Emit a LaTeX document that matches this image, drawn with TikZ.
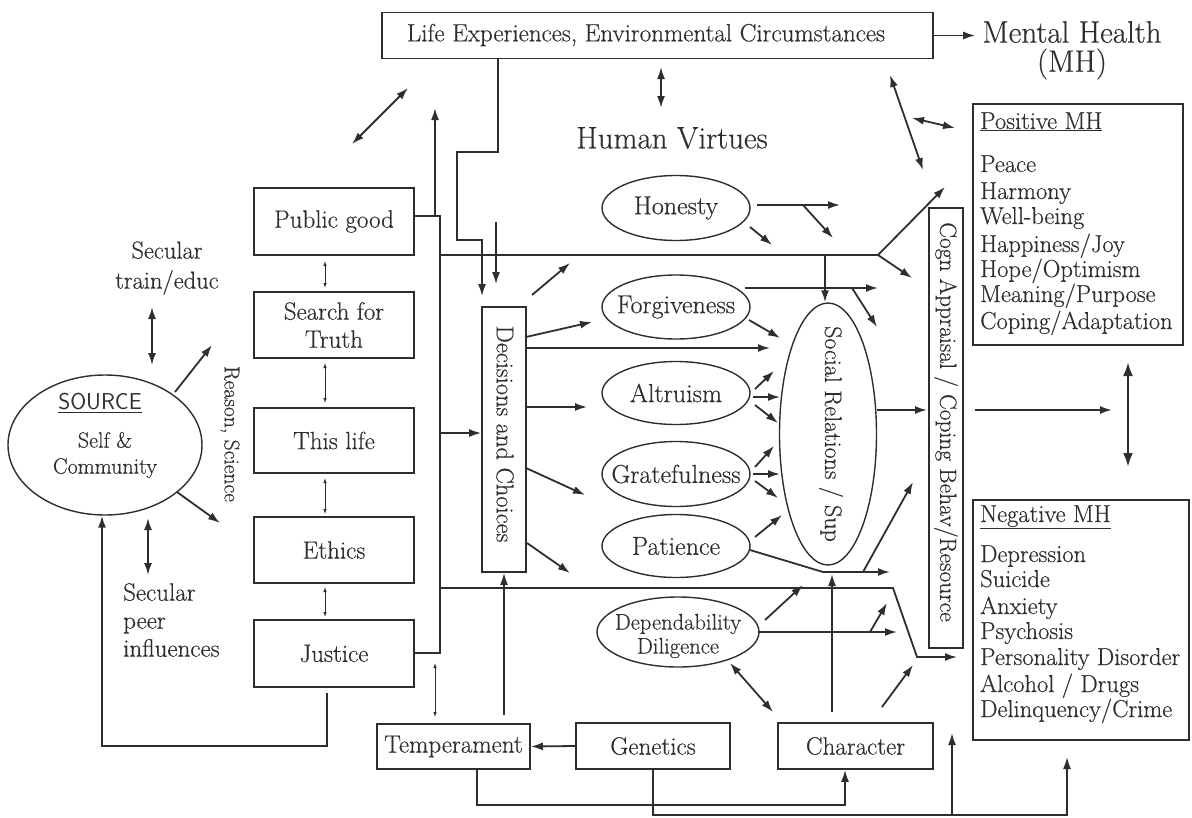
\documentclass[tikz,border=0pt]{standalone}
\usepackage{fontspec}
\setmainfont{Latin Modern Roman}[FakeBold=0.4]
\usetikzlibrary{arrows.meta,shapes.geometric}
\definecolor{ink}{HTML}{2E2E2E}
\begin{document}
\begin{tikzpicture}[x=1pt,y=-1pt,
  every node/.style={text=ink, inner sep=0pt},
  txt/.style={font=\fontsize{25}{28}\selectfont},
  box/.style={draw=ink, line width=1.7pt, txt, align=center},
  oval/.style={ellipse, draw=ink, line width=1.4pt},
  vtxt/.style={font=\fontsize{26}{28}\selectfont},
  ln/.style={draw=ink, line width=1.8pt},
  ar/.style={ln, -{Latex[length=12pt,width=8pt]}},
  dar/.style={ln, {Latex[length=12pt,width=8pt]}-{Latex[length=12pt,width=8pt]}},
  tar/.style={draw=ink, line width=0.8pt, {Latex[length=5pt,width=3.5pt]}-{Latex[length=5pt,width=3.5pt]}},
  bus/.style={draw=ink, line width=2.6pt},
  listitem/.style={font=\fontsize{24.5}{28}\selectfont, anchor=base west},
]
\useasboundingbox (0,0) rectangle (1192,817);

% ---------- top row ----------
\node[box, minimum width=551pt, minimum height=46pt] (life) at (657.5,35.5) {};
\node[txt] (lifeT) at (646,35) {Life Experiences, Environmental Circumstances};
\node[font=\fontsize{31}{34}\selectfont] (mh) at (1072,32) {Mental Health};
\node[font=\fontsize{31}{34}\selectfont] (mh2) at (1072,64) {(MH)};
\node[font=\fontsize{31}{34}\selectfont] (hv) at (672,138) {Human Virtues};

% ---------- value column ----------
\node[box, minimum width=160pt, minimum height=67pt] (pub) at (334,221.5) {Public good};
\node[box, minimum width=160pt, minimum height=66pt] (sft) at (334,325) {Search for\\Truth};
\node[box, minimum width=160pt, minimum height=65pt] (thl) at (334,440.5) {This life};
\node[box, minimum width=160pt, minimum height=66pt] (eth) at (334,550) {Ethics};
\node[box, minimum width=160pt, minimum height=67pt] (jus) at (334,653.5) {Justice};

% ---------- source ----------
\node[oval, minimum width=194pt, minimum height=140pt] (src) at (105,445) {};
\node[font=\sffamily\fontsize{23}{26}\selectfont] (srcT) at (100,403) {\underline{SOURCE}};
\node[font=\fontsize{22}{26}\selectfont, align=center] (srcB) at (105,455) {Self \&\\Community};
\node[font=\fontsize{24.5}{30}\selectfont, align=center] (sec1) at (167,268) {Secular\\train/educ};
\node[font=\fontsize{25}{28}\selectfont, align=left, anchor=west] (sec2) at (123,620) {Secular\\peer\\influences};
\node[font=\fontsize{21.5}{24}\selectfont, rotate=-90] (rs) at (230,434) {Reason, Science};

% ---------- decisions ----------
\node[box, minimum width=44pt, minimum height=265pt] (dec) at (504,439.5) {};
\node[font=\fontsize{24.5}{28}\selectfont, rotate=-90] (decT) at (505,434) {Decisions and Choices};

% ---------- virtues ----------
\node[oval, minimum width=148pt, minimum height=65pt] (hon) at (676,208) {};
\node[vtxt] (honT) at (hon) {Honesty};
\node[oval, minimum width=148pt, minimum height=64pt] (forg) at (676,307) {};
\node[vtxt] (forgT) at (forg) {Forgiveness};
\node[oval, minimum width=148pt, minimum height=63pt] (alt) at (676,393) {};
\node[vtxt] (altT) at (alt) {Altruism};
\node[oval, minimum width=148pt, minimum height=65pt] (grat) at (676,474) {};
\node[vtxt] (gratT) at (grat) {Gratefulness};
\node[oval, minimum width=148pt, minimum height=63pt] (pat) at (676,546) {};
\node[vtxt] (patT) at (pat) {Patience};
\node[oval, minimum width=162pt, minimum height=70pt] (dep) at (678,632) {};
\node[font=\fontsize{22.5}{24}\selectfont, align=center] (depT) at (678,636) {Dependability\\Diligence};

% ---------- social relations and appraisal ----------
\node[oval, minimum width=97pt, minimum height=262pt] (soc) at (828,434) {};
\node[font=\fontsize{24}{28}\selectfont, rotate=-90] (socT) at (831,434) {Social Relations / Sup};
\node[box, minimum width=34pt, minimum height=440pt] (cogn) at (946,428) {};
\node[font=\fontsize{23.5}{28}\selectfont, rotate=-90] (cognT) at (946,422) {Cogn Appraisal / Coping Behav/Resource};

% ---------- outcome boxes ----------
\node[box, minimum width=210pt, minimum height=241pt] (pos) at (1078,224.5) {};
\node[listitem] (pm0) at (980,129) {\underline{Positive MH}};
\node[listitem] (pm1) at (980,172) {Peace};
\node[listitem] (pm2) at (980,199) {Harmony};
\node[listitem] (pm3) at (980,224) {Well-being};
\node[listitem] (pm4) at (980,252) {Happiness/Joy};
\node[listitem] (pm5) at (980,277) {Hope/Optimism};
\node[listitem] (pm6) at (980,302) {Meaning/Purpose};
\node[listitem] (pm7) at (980,329) {Coping/Adaptation};

\node[box, minimum width=216pt, minimum height=240pt] (neg) at (1081,620) {};
\node[listitem] (nm0) at (980,522) {\underline{Negative MH}};
\node[listitem] (nm1) at (980,562) {Depression};
\node[listitem] (nm2) at (980,587) {Suicide};
\node[listitem] (nm3) at (980,614) {Anxiety};
\node[listitem] (nm4) at (980,639) {Psychosis};
\node[listitem] (nm5) at (980,665) {Personality Disorder};
\node[listitem] (nm6) at (980,692) {Alcohol / Drugs};
\node[listitem] (nm7) at (980,717) {Delinquency/Crime};

% ---------- bottom row ----------
\node[box, minimum width=153pt, minimum height=45pt] (temp) at (453.5,746.5) {Temperament};
\node[box, minimum width=154pt, minimum height=46pt] (gen) at (653,746) {Genetics};
\node[box, minimum width=155pt, minimum height=46pt] (char) at (855.5,746) {Character};

% ---------- free ends of connectors ----------
\coordinate (lhA) at (661,67);   \coordinate (lhB) at (661,108);
\coordinate (dgA) at (352,144);  \coordinate (dgB) at (408,88);
\coordinate (busT) at (440,216); \coordinate (busB) at (440,653);
\coordinate (upB) at (435,108);
\coordinate (hT) at (440,255);   \coordinate (fork) at (878,255);
\coordinate (forkU) at (945,187); \coordinate (forkD) at (912,278);
\coordinate (sv) at (825,255);
\coordinate (hB) at (440,588);   \coordinate (kB) at (893,588);
\coordinate (kC) at (917,657);   \coordinate (kD) at (957,657);
\coordinate (bd) at (440,433);
\coordinate (lp0) at (498,59);   \coordinate (lp1) at (498,152);
\coordinate (lp2) at (457,152);  \coordinate (lp3) at (457,240);
\coordinate (lp4) at (482,240);
\coordinate (d2) at (496,222);
\coordinate (ua) at (532,295);   \coordinate (ub) at (570,263);
\coordinate (dF) at (526,337);   \coordinate (dFe) at (592,322);
\coordinate (dL) at (526,348);   \coordinate (dLe) at (770,348);
\coordinate (dA) at (526,407);   \coordinate (dAe) at (587,407);
\coordinate (dG) at (526,468);   \coordinate (dGe) at (585,495);
\coordinate (dP) at (527,543);   \coordinate (dPe) at (570,573);
\coordinate (tU) at (504,715);
\coordinate (h1) at (757,205);   \coordinate (h1e) at (840,205);
\coordinate (h1b) at (803,205);  \coordinate (h1be) at (833,238);
\coordinate (h2) at (750,227);   \coordinate (h2e) at (772,245);
\coordinate (f1) at (745,288);   \coordinate (f1e) at (878,288);
\coordinate (f1b) at (852,288);  \coordinate (f1be) at (877,327);
\coordinate (f2) at (749,320);   \coordinate (f2e) at (780,338);
\coordinate (a1) at (755,389);   \coordinate (a1e) at (774,371);
\coordinate (a2) at (753,397);   \coordinate (a2e) at (780,397);
\coordinate (a3) at (755,405);   \coordinate (a3e) at (778,423);
\coordinate (g1) at (755,467);   \coordinate (g1e) at (774,446);
\coordinate (g2) at (753,474);   \coordinate (g2e) at (780,474);
\coordinate (g3) at (755,481);   \coordinate (g3e) at (778,498);
\coordinate (p1) at (755,537);   \coordinate (p1e) at (782,515);
\coordinate (p2) at (750,550);   \coordinate (p3) at (823,572);
\coordinate (p4) at (890,572);   \coordinate (p5) at (863,572);
\coordinate (p6) at (913,482);
\coordinate (q1) at (765,620);   \coordinate (q1e) at (803,585);
\coordinate (q2) at (758,632);   \coordinate (q2e) at (897,632);
\coordinate (q3) at (870,632);   \coordinate (q3e) at (887,603);
\coordinate (r1) at (730,663);   \coordinate (r2) at (773,712);
\coordinate (cv) at (832,712);   \coordinate (cvE) at (832,574);
\coordinate (s1) at (882,707);   \coordinate (s2) at (913,665);
\coordinate (m1) at (877,410);   \coordinate (m2) at (927,410);
\coordinate (m3) at (975,410);   \coordinate (m4) at (1112,410);
\coordinate (v1) at (1128,362);  \coordinate (v2) at (1128,467);
\coordinate (t1) at (890,75);    \coordinate (t2) at (923,170);
\coordinate (t3) at (912,118);   \coordinate (t4) at (955,128);
\coordinate (w1) at (435,663);   \coordinate (w2) at (435,717);
\coordinate (b1) at (477,805);   \coordinate (b2) at (845,805);
\coordinate (n1) at (653,815);   \coordinate (n2) at (1067,815);
\coordinate (n3) at (1067,757);  \coordinate (n4) at (952,815);
\coordinate (n5) at (952,733);
\coordinate (fb1) at (327,693);  \coordinate (fb2) at (327,746);
\coordinate (fb3) at (102,746);
\coordinate (sa) at (152,307);   \coordinate (sb) at (152,365);
\coordinate (sc) at (175,392);   \coordinate (sd) at (212,345);
\coordinate (se) at (177,492);   \coordinate (sf) at (220,523);
\coordinate (sg) at (148,518);   \coordinate (sh) at (148,575);
\coordinate (k1) at (325,261);   \coordinate (k2) at (325,288);
\coordinate (k3) at (325,363);   \coordinate (k4) at (325,403);
\coordinate (k5) at (325,478);   \coordinate (k6) at (325,514);
\coordinate (k7) at (325,587);   \coordinate (k8) at (325,617);

% ---------- connectors: top ----------
\draw[ar, shorten >=7pt] (life.east) -- (life.east -| mh.west);
\draw[dar] (lhA) -- (lhB);
\draw[dar] (dgA) -- (dgB);
\draw[dar] (t1) -- (t2);
\draw[dar] (t3) -- (t4);

% ---------- connectors: value column and bus ----------
\draw[bus] (pub.east |- busT) -- (busT) -- (busB) -- (jus.east |- busB);
\draw[ar] (upB |- busT) -- (upB);
\draw[tar] (k1) -- (k2);
\draw[tar] (k3) -- (k4);
\draw[tar] (k5) -- (k6);
\draw[tar] (k7) -- (k8);
\draw[ln] (hT) -- (fork);
\draw[ar] (fork) -- (forkU);
\draw[ar] (fork) -- (forkD);
\draw[ar] (sv) -- (sv |- soc.north);
\draw[ar] (hB) -- (kB) -- (kC) -- (kD);
\draw[ar] (bd) -- (bd -| dec.west);

% ---------- connectors: source ----------
\draw[ar] (fb1) -- (fb2) -- (fb3) -- (fb3 |- src.south);
\draw[dar] (sa) -- (sb);
\draw[ar] (sc) -- (sd);
\draw[ar] (se) -- (sf);
\draw[dar] (sg) -- (sh);

% ---------- connectors: decisions ----------
\draw[ar, shorten >=10pt] (lp0) -- (lp1) -- (lp2) -- (lp3) -- (lp4) -- (lp4 |- dec.north);
\draw[ar, shorten >=22pt] (d2) -- (d2 |- dec.north);
\draw[ar] (ua) -- (ub);
\draw[ar] (dF) -- (dFe);
\draw[ar] (dL) -- (dLe);
\draw[ar] (dA) -- (dAe);
\draw[ar] (dG) -- (dGe);
\draw[ar] (dP) -- (dPe);
\draw[ar] (tU) -- (tU |- dec.south);

% ---------- connectors: virtues ----------
\draw[ar] (h1) -- (h1e);
\draw[ar] (h1b) -- (h1be);
\draw[ar] (h2) -- (h2e);
\draw[ar] (f1) -- (f1e);
\draw[ar] (f1b) -- (f1be);
\draw[ar] (f2) -- (f2e);
\draw[ar] (a1) -- (a1e);
\draw[ar] (a2) -- (a2e);
\draw[ar] (a3) -- (a3e);
\draw[ar] (g1) -- (g1e);
\draw[ar] (g2) -- (g2e);
\draw[ar] (g3) -- (g3e);
\draw[ar] (p1) -- (p1e);
\draw[ar] (p2) -- (p3) -- (p4);
\draw[ar] (p5) -- (p6);
\draw[ar] (q1) -- (q1e);
\draw[ar] (q2) -- (q2e);
\draw[ar] (q3) -- (q3e);
\draw[dar] (r1) -- (r2);

% ---------- connectors: right side ----------
\draw[ar] (cv) -- (cvE);
\draw[ar] (s1) -- (s2);
\draw[ar] (m1) -- (m2);
\draw[ar] (m3) -- (m4);
\draw[draw=ink, line width=2.6pt, {Latex[length=14pt,width=10pt]}-{Latex[length=14pt,width=10pt]}] (v1) -- (v2);

% ---------- connectors: bottom ----------
\draw[ar] (gen.west) -- (temp.east);
\draw[tar] (w1) -- (w2);
\draw[ar] (b1 |- temp.south) -- (b1) -- (b2) -- (b2 |- char.south);
\draw[ar] (gen.south) -- (n1) -- (n2) -- (n3);
\draw[ar] (n4) -- (n5);
\end{tikzpicture}
\end{document}
